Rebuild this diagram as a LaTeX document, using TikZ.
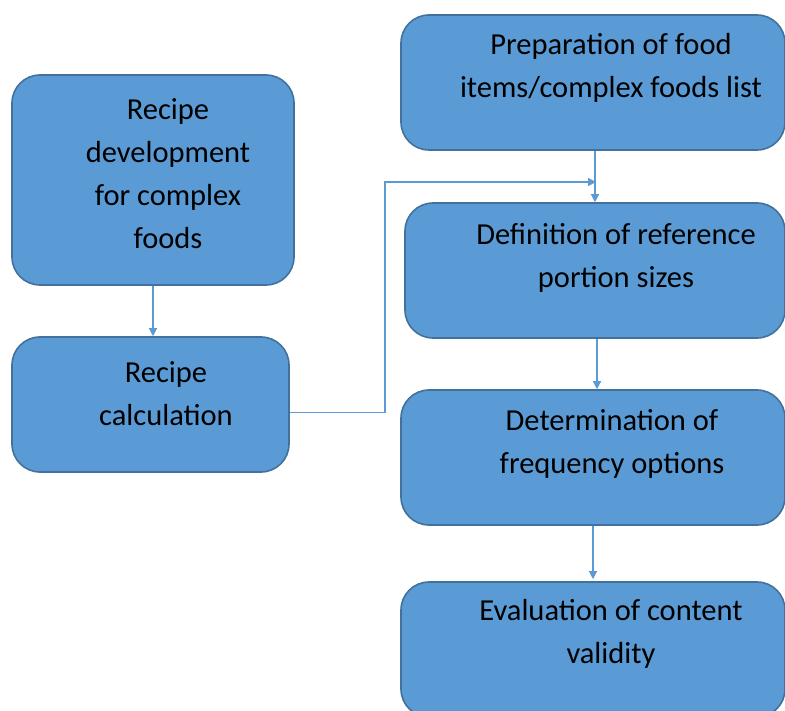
\documentclass[tikz,border=0pt]{standalone}
\usepackage{fontspec}
\setmainfont{Carlito}
\usetikzlibrary{arrows.meta,calc}
\definecolor{boxfill}{HTML}{5B9BD5}
\definecolor{boxline}{HTML}{41719C}
\tikzset{every scope/.style={>={Triangle[width=8pt,length=8pt]}},
  stepbox/.style={draw=boxline,fill=boxfill,line width=1.6pt,rounded corners=28pt,
    rectangle,inner sep=0pt},
  steptext/.style={align=center,inner sep=0pt,font=\fontsize{30.5}{43}\selectfont},
  flow/.style={->,draw=boxfill,line width=1.3pt}}

\begin{document}
\begin{tikzpicture}[x=1pt,y=-1pt]
      \useasboundingbox (0,0) rectangle (785,711);
      \begin{scope}
      \clip (0,0) rectangle (785,711);
      \node[stepbox,minimum width=282pt,minimum height=210pt] (A) at (153, 180) {};
      \node[stepbox,minimum width=277pt,minimum height=135pt] (B) at (150.5, 404.5) {};
      \node[stepbox,minimum width=384pt,minimum height=135pt] (C) at (593, 82.5) {};
      \node[stepbox,minimum width=380pt,minimum height=135pt] (D) at (595, 270.5) {};
      \node[stepbox,minimum width=384pt,minimum height=135pt] (E) at (593, 457.5) {};
      \node[stepbox,minimum width=384pt,minimum height=135pt] (F) at (593, 649.5) {};
      \end{scope}
      \node[steptext] (At) at (168, 174) {Recipe\\development\\for complex\\foods};
      \node[steptext] (Bt) at (166, 394) {Recipe\\calculation};
      \node[steptext] (Ct) at (611, 68)  {Preparation of food\\items/complex foods list};
      \node[steptext] (Dt) at (616, 258) {Definition of reference\\portion sizes};
      \node[steptext] (Et) at (612, 444) {Determination of\\frequency options};
      \node[steptext] (Ft) at (611, 634) {Evaluation of content\\validity};
      \coordinate (turn) at (385, 182);
      \coordinate (join) at (596, 182);
      \draw[flow] (A.south) -- (A.south |- B.north);
      \draw[flow] (C.south) ++(2,0) -- ($(C.south |- D.north)+(2,0)$);
      \draw[flow] ($(B.east)+(0,8)$) -| (turn) -- (join);
      \draw[flow] (D.south) ++(2,0) -- ($(D.south |- E.north)+(2,0)$);
      \draw[flow] (E.south) -- ($(E.south |- F.north)+(0,-2)$);
    \end{tikzpicture}
\end{document}
